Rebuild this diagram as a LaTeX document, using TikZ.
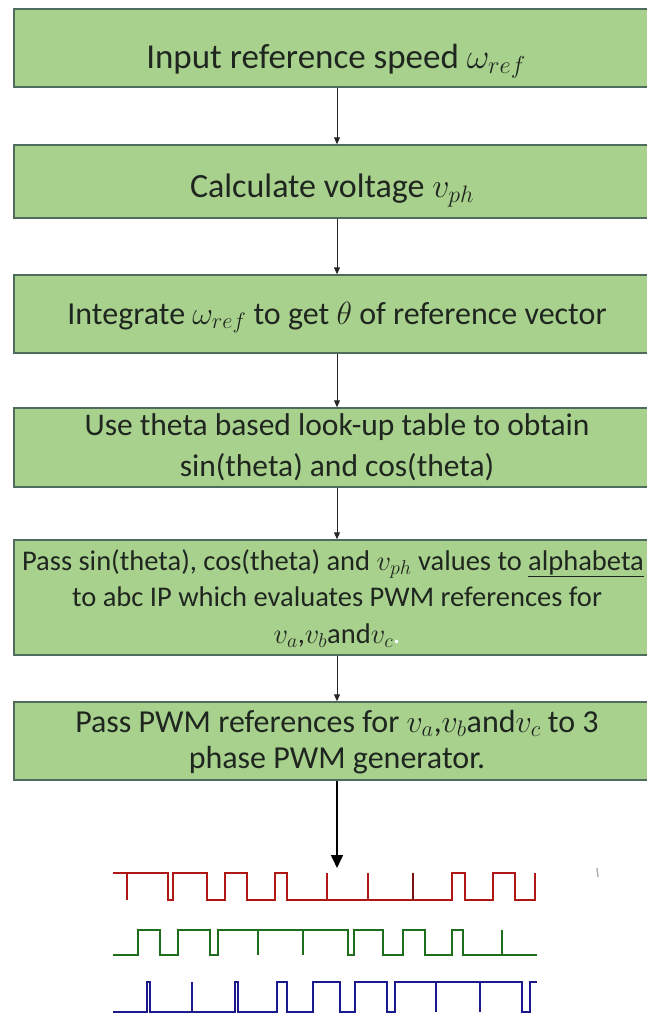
\RequirePackage{fix-cm}
\documentclass[tikz,border=0pt]{standalone}
\usepackage{fontspec}
\setmainfont{Carlito}
\usetikzlibrary{arrows.meta}
\definecolor{boxfill}{HTML}{A9D18E}
\definecolor{boxline}{HTML}{4F6B5B}
\definecolor{txt}{HTML}{1F261F}
\definecolor{wred}{HTML}{B01818}
\definecolor{wgreen}{HTML}{1E6E1E}
\definecolor{wblue}{HTML}{1A1A8C}
\begin{document}
\begin{tikzpicture}[x=1pt,y=-1pt,
  box/.style={draw=boxline, line width=1.5pt, fill=boxfill, minimum width=646pt, inner sep=0pt},
  lbl/.style={anchor=base, text=txt, inner sep=0pt},
  arr/.style={draw=black!85, line width=1pt, -{Triangle[length=7pt,width=6pt]}},
  bigarr/.style={draw=black, line width=1.6pt, -{Triangle[length=13pt,width=12pt]}},
  wave/.style={line width=1.3pt, line join=miter},
  spike/.style={line width=2.4pt}]
\useasboundingbox (0,0) rectangle (647,1015);
\fill[white] (0,0) rectangle (647,1015);
\clip (0,0) rectangle (647,1015);

% boxes
\node[box, minimum height=78pt] (b1) at (337,48) {};
\node[box, minimum height=73pt] (b2) at (337,181.5) {};
\node[box, minimum height=78pt] (b3) at (337,314) {};
\node[box, minimum height=79pt] (b4) at (337,447.5) {};
\node[box, minimum height=115pt] (b5) at (337,597.5) {};
\node[box, minimum height=78pt] (b6) at (337,741) {};

% texts
\node[lbl] (t1) at (336,68) {\fontsize{35}{41}\selectfont Input reference speed $\omega_{ref}$};
\node[lbl] (t2) at (332,197) {\fontsize{34}{40}\selectfont Calculate voltage $v_{ph}$};
\node[lbl] (t3) at (337,324) {\fontsize{32}{38}\selectfont Integrate $\omega_{ref}$ to get $\theta$ of reference vector};
\node[lbl] (t4a) at (337,435) {\fontsize{31.5}{38}\selectfont Use theta based look-up table to obtain};
\node[lbl] (t4b) at (337,476) {\fontsize{31.5}{38}\selectfont sin(theta) and cos(theta)};
\node[lbl] (t5a) at (333,570) {\fontsize{28.5}{34}\selectfont Pass sin(theta), cos(theta) and $v_{ph}$ values to \underline{alphabeta}};
\node[lbl] (t5b) at (337,606) {\fontsize{28.5}{34}\selectfont to abc IP which evaluates PWM references for};
\node[lbl] (t5c) at (337,643) {\fontsize{28.5}{34}\selectfont $v_a$,$v_b$and$v_c${\color{white}.}};
\node[lbl] (t6a) at (337,732) {\fontsize{32}{38}\selectfont Pass PWM references for $v_a$,$v_b$and$v_c$ to 3};
\node[lbl] (t6b) at (337,768) {\fontsize{32}{38}\selectfont phase PWM generator.};

% connectors
\draw[arr] (b1) -- (b2);
\draw[arr] (b2) -- (b3);
\draw[arr] (b3) -- (b4);
\draw[arr] (b4) -- (b5);
\draw[arr] (b5) -- (b6);
\coordinate (wtop) at (337,868);
\draw[bigarr] (b6) -- (wtop);

% red waveform
\draw[wave, wred] (113,873) -- (168,873) -- (168,900) -- (173,900) -- (173,873) -- (207,873) -- (207,900) -- (225,900) -- (225,873) -- (247,873) -- (247,900) -- (275,900) -- (275,873) -- (287,873) -- (287,900) -- (452,900) -- (452,873) -- (465,873) -- (465,900) -- (493,900) -- (493,873) -- (515,873) -- (515,900) -- (535,900) -- (535,873);
\draw[spike, wred] (127,873) -- (127,900);
\draw[wave, wred] (327,900) -- (327,873);
\draw[wave, wred] (368,900) -- (368,873);
\draw[spike, wred!70!black] (413,900) -- (413,873);
\draw[spike, wred] (535,900) -- (535,873);

% green waveform
\draw[wave, wgreen] (113,955) -- (138,955) -- (138,930) -- (160,930) -- (160,955) -- (178,955) -- (178,930) -- (210,930) -- (210,955) -- (218,955) -- (218,930) -- (348,930) -- (348,955) -- (354,955) -- (354,930) -- (383,930) -- (383,955) -- (403,955) -- (403,930) -- (425,930) -- (425,955) -- (452,955) -- (452,930) -- (463,930) -- (463,955) -- (537,955);
\draw[spike, wgreen] (258,930) -- (258,955);
\draw[spike, wgreen] (303,930) -- (303,955);
\draw[wave, wgreen] (502,955) -- (502,930);

% blue waveform
\draw[wave, wblue] (113,1012) -- (147,1012) -- (147,982) -- (150,982) -- (150,1012) -- (235,1012) -- (235,982) -- (238,982) -- (238,1012) -- (277,1012) -- (277,982) -- (287,982) -- (287,1012) -- (313,1012) -- (313,982) -- (340,982) -- (340,1012) -- (355,1012) -- (355,982) -- (387,982) -- (387,1012) -- (395,1012) -- (395,982) -- (522,982) -- (522,1012) -- (530,1012) -- (530,982) -- (537,982);
\draw[wave, wblue] (192,1012) -- (192,982);
\draw[spike, wblue] (436,982) -- (436,1012);
\draw[spike, wblue] (480,982) -- (480,1012);

% small mark at right
\draw[gray!60, line width=1.5pt] (597,868) -- (598,877);
\end{tikzpicture}
\end{document}
